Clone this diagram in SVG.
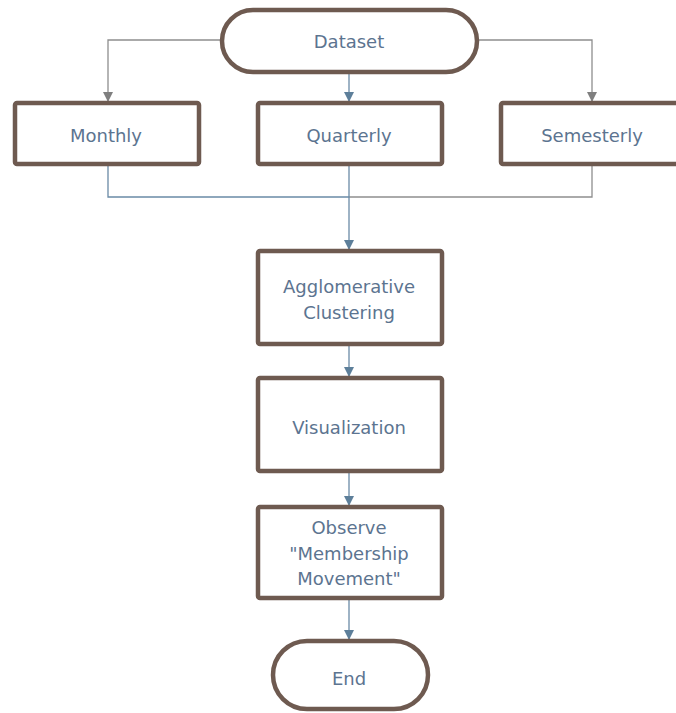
<svg xmlns="http://www.w3.org/2000/svg" width="676" height="713" viewBox="0 0 676 713">
<style>
.box{fill:#fff;stroke:#6e5a50;stroke-width:4.5}
.t{font-family:"DejaVu Sans","Liberation Sans",sans-serif;font-size:18px;fill:#5c7490;text-anchor:middle}
.cb{fill:none;stroke:#6a8aa6;stroke-width:1.3}
.cg{fill:none;stroke:#8e8e8e;stroke-width:1.3}
</style>
<defs>
<marker id="ab" markerWidth="10" markerHeight="10" refX="9" refY="5" orient="auto" markerUnits="userSpaceOnUse"><path d="M0,0 L10,5 L0,10 Z" fill="#5d7f9a"/></marker>
<marker id="ag" markerWidth="10" markerHeight="10" refX="9" refY="5" orient="auto" markerUnits="userSpaceOnUse"><path d="M0,0 L10,5 L0,10 Z" fill="#7f7f7f"/></marker>
</defs>
<rect width="676" height="713" fill="#fff"/>
<g id="connectors">
<path class="cg" d="M222,40 H108 V101" marker-end="url(#ag)"/>
<path class="cg" d="M477,40 H592 V101" marker-end="url(#ag)"/>
<path class="cb" d="M349,72 V101" marker-end="url(#ab)"/>
<path class="cb" d="M108,164 V197 H349"/>
<path class="cg" d="M592,164 V197 H349"/>
<path class="cb" d="M349,164 V249" marker-end="url(#ab)"/>
<path class="cb" d="M349,344 V376" marker-end="url(#ab)"/>
<path class="cb" d="M349,471 V505" marker-end="url(#ab)"/>
<path class="cb" d="M349,598 V639" marker-end="url(#ab)"/>
</g>
<g id="dataset"><rect class="box" x="222" y="10" width="255" height="62" rx="31"/><text class="t" x="349" y="48">Dataset</text></g>
<g id="monthly"><rect class="box" x="15" y="103" width="184" height="61" rx="2"/><text class="t" x="106" y="142">Monthly</text></g>
<g id="quarterly"><rect class="box" x="258" y="103" width="184" height="61" rx="2"/><text class="t" x="349" y="142">Quarterly</text></g>
<g id="semesterly"><rect class="box" x="501" y="103" width="190" height="61" rx="2"/><text class="t" x="592" y="142">Semesterly</text></g>
<g id="agglomerative"><rect class="box" x="258" y="251" width="184" height="93" rx="2"/><text class="t" x="349" y="293">Agglomerative</text><text class="t" x="349" y="319">Clustering</text></g>
<g id="visualization"><rect class="box" x="258" y="378" width="184" height="93" rx="2"/><text class="t" x="349" y="434">Visualization</text></g>
<g id="observe"><rect class="box" x="258" y="507" width="184" height="91" rx="2"/><text class="t" x="349" y="534">Observe</text><text class="t" x="349" y="560">"Membership</text><text class="t" x="349" y="585">Movement"</text></g>
<g id="end"><rect class="box" x="273" y="641" width="155" height="68" rx="34"/><text class="t" x="349" y="685">End</text></g>
</svg>
